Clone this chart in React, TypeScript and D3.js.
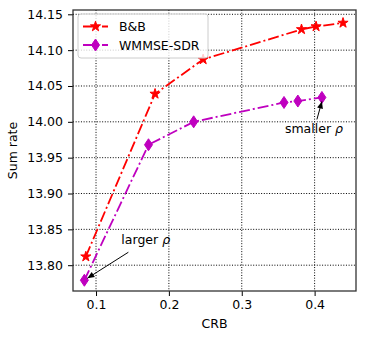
import * as d3 from "d3"
import { useEffect, useRef } from "react"

// CRB / sum rate
const bbCrb = [0.086, 0.181, 0.247, 0.382, 0.402, 0.439]
const bbRate = [13.812, 14.039, 14.087, 14.129, 14.133, 14.138]
const sdrCrb = [0.084, 0.172, 0.234, 0.358, 0.377, 0.41]
const sdrRate = [13.779, 13.968, 14.0, 14.027, 14.029, 14.034]
const xTicks = [0.1, 0.2, 0.3, 0.4]
const yTicks = [13.8, 13.85, 13.9, 13.95, 14.0, 14.05, 14.1, 14.15]
const seriesNames = ["B&B", "WMMSE-SDR"]

export default function App() {
	const ref = useRef<SVGSVGElement>(null)

	useEffect(() => {
		const svg = d3.select(ref.current)
		svg.selectAll("*").remove()

		const margin = { top: 10, left: 73, right: 9, bottom: 49 }
		const W = 365, H = 340
		const font = "DejaVu Sans, sans-serif"
		const fs = 12.5

		const x = d3.scaleLinear().domain([0.0684, 0.4568]).range([margin.left, W - margin.right])
		const y = d3.scaleLinear().domain([13.764, 14.156]).range([H - margin.bottom, margin.top])

		// grid
		const grid = svg.append("g")
		xTicks.forEach(t => {
			grid.append("line")
				.attr("x1", x(t)).attr("x2", x(t))
				.attr("y1", margin.top).attr("y2", H - margin.bottom)
				.attr("stroke", "#000").attr("stroke-width", 1).attr("stroke-dasharray", "1,1.65")
		})
		yTicks.forEach(t => {
			grid.append("line")
				.attr("x1", margin.left).attr("x2", W - margin.right)
				.attr("y1", y(t)).attr("y2", y(t))
				.attr("stroke", "#000").attr("stroke-width", 1).attr("stroke-dasharray", "1,1.65")
		})

		// axes
		const xAxis = d3.axisBottom(x).tickValues(xTicks).tickSize(5).tickPadding(4).tickFormat(d3.format(".1f"))
		svg.append("g")
			.attr("transform", `translate(0, ${H - margin.bottom})`)
			.call(xAxis)
			.attr("font-size", fs).attr("font-family", font)
			.call(g => g.select(".domain").remove())

		const yAxis = d3.axisLeft(y).tickValues(yTicks).tickSize(5).tickPadding(5).tickFormat(d3.format(".2f"))
		svg.append("g")
			.attr("transform", `translate(${margin.left}, 0)`)
			.call(yAxis)
			.attr("font-size", fs).attr("font-family", font)
			.call(g => g.select(".domain").remove())

		svg.selectAll(".tick text").attr("fill", "#000")

		// frame
		svg.append("rect")
			.attr("x", margin.left).attr("y", margin.top)
			.attr("width", W - margin.left - margin.right)
			.attr("height", H - margin.top - margin.bottom)
			.attr("fill", "none").attr("stroke", "#333").attr("stroke-width", 1.3)

		// labels
		svg.append("text")
			.attr("x", (margin.left + W - margin.right) / 2).attr("y", 328)
			.attr("text-anchor", "middle").attr("font-family", font).attr("font-size", fs)
			.text("CRB")
		svg.append("text")
			.attr("transform", `translate(17, ${(margin.top + H - margin.bottom) / 2}) rotate(-90)`)
			.attr("text-anchor", "middle").attr("font-family", font).attr("font-size", fs)
			.text("Sum rate")

		const star = d3.symbol().type(d3.symbolStar).size(32)()
		const diamond = "M0,-6L4,0L0,6L-4,0Z"
		const dash = "11,3,2,3"

		const drawSeries = (xs: number[], ys: number[], color: string, marker: string) => {
			const pts = xs.map((v, i) => [x(v), y(ys[i])] as [number, number])
			svg.append("path")
				.attr("d", d3.line()(pts))
				.attr("fill", "none").attr("stroke", color).attr("stroke-width", 1.8)
				.attr("stroke-dasharray", dash)
			svg.append("g").selectAll("path")
				.data(pts).enter().append("path")
				.attr("d", marker)
				.attr("transform", d => `translate(${d[0]}, ${d[1]})`)
				.attr("fill", color).attr("stroke", color).attr("stroke-width", 1)
		}
		drawSeries(bbCrb, bbRate, "#ff0000", star)
		drawSeries(sdrCrb, sdrRate, "#bf00bf", diamond)

		// annotations
		const arrow = (x1: number, y1: number, x2: number, y2: number) => {
			svg.append("line")
				.attr("x1", x1).attr("y1", y1).attr("x2", x2).attr("y2", y2)
				.attr("stroke", "#000").attr("stroke-width", 1)
			const a = Math.atan2(y2 - y1, x2 - x1)
			const L = 7, w = 3
			const p = [
				[x2, y2],
				[x2 - L * Math.cos(a) + w * Math.sin(a), y2 - L * Math.sin(a) - w * Math.cos(a)],
				[x2 - L * Math.cos(a) - w * Math.sin(a), y2 - L * Math.sin(a) + w * Math.cos(a)],
			]
			svg.append("path").attr("d", `M${p.map(q => q.join(",")).join("L")}Z`).attr("fill", "#000")
		}
		const p0 = [x(sdrCrb[0]), y(sdrRate[0])]
		arrow(p0[0] + 44, p0[1] - 28, p0[0] + 3, p0[1] - 2)
		svg.append("text")
			.attr("x", p0[0] + 37).attr("y", p0[1] - 36)
			.attr("font-family", font).attr("font-size", fs)
			.html('larger <tspan font-style="italic">ρ</tspan>')
		const p1 = [x(sdrCrb[5]), y(sdrRate[5])]
		arrow(p1[0] - 5, p1[1] + 22, p1[0], p1[1] + 4)
		svg.append("text")
			.attr("x", p1[0] - 37).attr("y", p1[1] + 36)
			.attr("font-family", font).attr("font-size", fs)
			.html('smaller <tspan font-style="italic">ρ</tspan>')

		// legend
		const lg = svg.append("g").attr("transform", `translate(${margin.left + 5}, ${margin.top + 4})`)
		lg.append("rect")
			.attr("width", 130).attr("height", 44).attr("rx", 3)
			.attr("fill", "#fff").attr("fill-opacity", 0.8).attr("stroke", "#ccc")
		const colors = ["#ff0000", "#bf00bf"]
		const markers = [star, diamond]
		seriesNames.forEach((name, i) => {
			const cy = 12.5 + i * 18.5
			lg.append("line")
				.attr("x1", 5).attr("x2", 30).attr("y1", cy).attr("y2", cy)
				.attr("stroke", colors[i]).attr("stroke-width", 1.8).attr("stroke-dasharray", dash)
			lg.append("path").attr("d", markers[i])
				.attr("transform", `translate(17.5, ${cy})`)
				.attr("fill", colors[i]).attr("stroke", colors[i])
			lg.append("text")
				.attr("x", 41).attr("y", cy + 4.5)
				.attr("font-family", font).attr("font-size", fs)
				.text(name)
		})
	}, [])

	return <svg ref={ref} width={365} height={340} style={{ position: "absolute", left: 0, top: 0 }} />
}
